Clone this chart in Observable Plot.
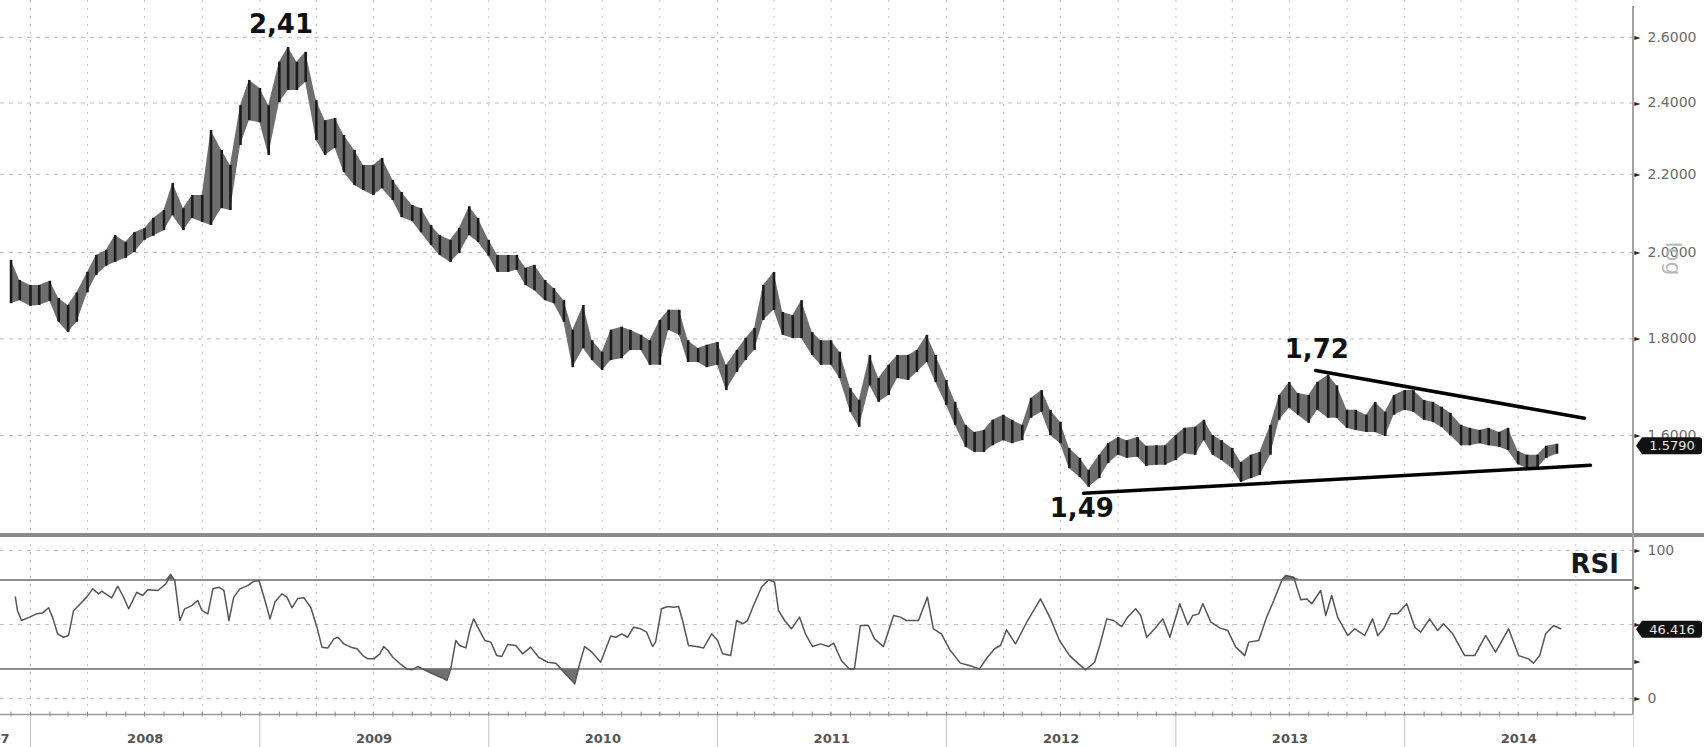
<!DOCTYPE html>
<html><head><meta charset="utf-8">
<script src="https://cdn.jsdelivr.net/npm/d3@7"></script>
<script src="https://cdn.jsdelivr.net/npm/@observablehq/plot@0.6"></script>
<style>
html,body{margin:0;padding:0;background:#fff;overflow:hidden;}
#wrap{position:relative;width:1704px;height:747px;}
#wrap svg{display:block;}
.ov{position:absolute;}
</style></head><body><div id="wrap"></div>
<script>
// ---- price bars (semi-monthly high/low) ----
const priceDates = [
"2007-12-01","2007-12-15",
"2008-01-01","2008-01-15","2008-02-01","2008-02-15","2008-03-01","2008-03-15","2008-04-01","2008-04-15","2008-05-01","2008-05-15","2008-06-01","2008-06-15","2008-07-01","2008-07-15","2008-08-01","2008-08-15","2008-09-01","2008-09-15","2008-10-01","2008-10-15","2008-11-01","2008-11-15","2008-12-01","2008-12-15",
"2009-01-01","2009-01-15","2009-02-01","2009-02-15","2009-03-01","2009-03-15","2009-04-01","2009-04-15","2009-05-01","2009-05-15","2009-06-01","2009-06-15","2009-07-01","2009-07-15","2009-08-01","2009-08-15","2009-09-01","2009-09-15","2009-10-01","2009-10-15","2009-11-01","2009-11-15","2009-12-01","2009-12-15",
"2010-01-01","2010-01-15","2010-02-01","2010-02-15","2010-03-01","2010-03-15","2010-04-01","2010-04-15","2010-05-01","2010-05-15","2010-06-01","2010-06-15","2010-07-01","2010-07-15","2010-08-01","2010-08-15","2010-09-01","2010-09-15","2010-10-01","2010-10-15","2010-11-01","2010-11-15","2010-12-01","2010-12-15",
"2011-01-01","2011-01-15","2011-02-01","2011-02-15","2011-03-01","2011-03-15","2011-04-01","2011-04-15","2011-05-01","2011-05-15","2011-06-01","2011-06-15","2011-07-01","2011-07-15","2011-08-01","2011-08-15","2011-09-01","2011-09-15","2011-10-01","2011-10-15","2011-11-01","2011-11-15","2011-12-01","2011-12-15",
"2012-01-01","2012-01-15","2012-02-01","2012-02-15","2012-03-01","2012-03-15","2012-04-01","2012-04-15","2012-05-01","2012-05-15","2012-06-01","2012-06-15","2012-07-01","2012-07-15","2012-08-01","2012-08-15","2012-09-01","2012-09-15","2012-10-01","2012-10-15","2012-11-01","2012-11-15","2012-12-01","2012-12-15",
"2013-01-01","2013-01-15","2013-02-01","2013-02-15","2013-03-01","2013-03-15","2013-04-01","2013-04-15","2013-05-01","2013-05-15","2013-06-01","2013-06-15","2013-07-01","2013-07-15","2013-08-01","2013-08-15","2013-09-01","2013-09-15","2013-10-01","2013-10-15","2013-11-01","2013-11-15","2013-12-01","2013-12-15",
"2014-01-01","2014-01-15","2014-02-01","2014-02-15","2014-03-01","2014-03-15","2014-04-01","2014-04-15","2014-05-01","2014-05-15","2014-06-01","2014-06-15","2014-07-01","2014-07-15","2014-08-01","2014-08-15","2014-09-01"
];
const priceHigh = [
1.981,1.933,1.921,1.921,1.931,1.891,1.875,1.904,1.952,1.993,
2.005,2.042,2.025,2.049,2.059,2.085,2.105,2.176,2.110,2.144,
2.144,2.321,2.265,2.224,2.392,2.467,2.443,2.392,2.522,2.568,
2.522,2.553,2.407,2.349,2.355,2.307,2.265,2.224,2.224,2.243,
2.184,2.152,2.118,2.110,2.067,2.042,2.030,2.059,2.115,2.085,
2.030,1.993,1.993,1.993,1.962,1.969,1.933,1.914,1.886,1.819,
1.875,1.796,1.771,1.819,1.826,1.819,1.808,1.796,1.841,1.864,
1.864,1.796,1.779,1.786,1.792,1.743,1.775,1.801,1.823,1.921,
1.952,1.859,1.852,1.886,1.814,1.796,1.796,1.771,1.694,1.670,
1.764,1.715,1.743,1.764,1.764,1.775,1.808,1.764,1.711,1.666,
1.620,1.606,1.610,1.630,1.640,1.630,1.620,1.674,1.690,1.650,
1.626,1.575,1.556,1.533,1.562,1.584,1.596,1.590,1.596,1.579,
1.580,1.580,1.600,1.614,1.616,1.630,1.600,1.590,1.575,1.548,
1.562,1.567,1.620,1.680,1.707,1.684,1.680,1.707,1.722,1.700,
1.650,1.650,1.640,1.666,1.646,1.680,1.690,1.690,1.670,1.666,
1.656,1.644,1.620,1.614,1.610,1.614,1.606,1.614,1.569,1.562,
1.562,1.579,1.583
];
const priceLow = [
1.879,1.886,1.873,1.875,1.884,1.837,1.814,1.837,1.904,1.945,
1.967,1.976,1.986,2.000,2.030,2.040,2.054,2.092,2.054,2.085,
2.075,2.067,2.110,2.105,2.279,2.349,2.343,2.251,2.401,2.437,
2.437,2.461,2.293,2.251,2.271,2.205,2.170,2.157,2.144,2.162,
2.131,2.087,2.077,2.049,2.017,1.993,1.976,1.998,2.042,2.025,
1.991,1.952,1.952,1.957,1.921,1.909,1.886,1.879,1.837,1.738,
1.779,1.753,1.732,1.753,1.757,1.775,1.775,1.743,1.743,1.819,
1.808,1.749,1.749,1.738,1.743,1.690,1.728,1.753,1.775,1.841,
1.864,1.808,1.801,1.801,1.764,1.743,1.743,1.715,1.646,1.616,
1.700,1.666,1.680,1.715,1.711,1.728,1.749,1.707,1.660,1.620,
1.577,1.567,1.567,1.580,1.590,1.584,1.590,1.634,1.646,1.600,
1.584,1.537,1.520,1.502,1.518,1.546,1.562,1.556,1.558,1.541,
1.543,1.543,1.552,1.565,1.562,1.590,1.562,1.552,1.537,1.511,
1.518,1.524,1.562,1.630,1.654,1.640,1.624,1.650,1.634,1.634,
1.614,1.610,1.606,1.606,1.598,1.640,1.650,1.646,1.630,1.626,
1.616,1.600,1.580,1.580,1.584,1.580,1.577,1.571,1.544,1.537,
1.537,1.556,1.564
];
const lastPrice = 1.5790;

// ---- RSI (time as decimal year, value) ----
const rsiTimes = [
2007.934,2007.943,2007.961,2007.996,2008.026,2008.052,2008.079,2008.096,2008.118,2008.144,
2008.166,2008.188,2008.210,2008.245,2008.271,2008.297,2008.310,2008.354,2008.380,2008.402,
2008.428,2008.463,2008.489,2008.511,2008.555,2008.590,2008.611,2008.629,2008.651,2008.672,
2008.703,2008.729,2008.747,2008.773,2008.795,2008.821,2008.843,2008.865,2008.886,2008.913,
2008.948,2008.974,2008.996,2009.022,2009.044,2009.066,2009.096,2009.118,2009.140,2009.166,
2009.192,2009.223,2009.249,2009.271,2009.297,2009.323,2009.341,2009.367,2009.397,2009.424,
2009.450,2009.472,2009.498,2009.524,2009.541,2009.559,2009.581,2009.616,2009.642,2009.664,
2009.690,2009.725,2009.755,2009.790,2009.817,2009.834,2009.856,2009.873,2009.900,2009.917,
2009.934,2009.956,2009.983,2010.009,2010.035,2010.057,2010.083,2010.118,2010.148,2010.183,
2010.218,2010.258,2010.293,2010.319,2010.349,2010.376,2010.397,2010.419,2010.450,2010.489,
2010.533,2010.555,2010.581,2010.607,2010.633,2010.664,2010.690,2010.716,2010.729,2010.755,
2010.782,2010.808,2010.830,2010.847,2010.873,2010.908,2010.939,2010.974,2011.000,2011.022,
2011.057,2011.083,2011.109,2011.131,2011.157,2011.192,2011.223,2011.249,2011.266,2011.293,
2011.323,2011.358,2011.384,2011.415,2011.450,2011.485,2011.507,2011.541,2011.576,2011.598,
2011.624,2011.659,2011.686,2011.725,2011.769,2011.799,2011.825,2011.878,2011.917,2011.943,
2011.978,2012.017,2012.061,2012.100,2012.144,2012.179,2012.210,2012.236,2012.262,2012.301,
2012.354,2012.410,2012.454,2012.493,2012.537,2012.576,2012.607,2012.646,2012.668,2012.699,
2012.729,2012.764,2012.790,2012.825,2012.847,2012.873,2012.908,2012.943,2012.974,2013.017,
2013.052,2013.074,2013.100,2013.118,2013.153,2013.192,2013.227,2013.262,2013.301,2013.319,
2013.362,2013.397,2013.428,2013.463,2013.480,2013.515,2013.546,2013.572,2013.594,2013.633,
2013.655,2013.681,2013.707,2013.751,2013.782,2013.825,2013.860,2013.882,2013.908,2013.939,
2013.969,2014.009,2014.044,2014.070,2014.109,2014.144,2014.170,2014.210,2014.262,2014.306,
2014.354,2014.397,2014.454,2014.498,2014.541,2014.563,2014.590,2014.616,2014.651,2014.681
];
const rsiValues = [
68.5,59.5,52.7,55,57.2,57.7,61.3,55,43.7,41.4,
42.6,59.5,62.8,68.5,74.1,70.7,72.5,68,75.9,69.6,
60.6,71.8,69.6,73.4,73,77.5,83.8,79.7,52.7,60.6,
62.8,66.2,59.5,57.2,74.1,75.2,73,52.7,68.5,74.1,
76.4,79.3,79.7,66.2,53.8,65.3,70.7,68.5,61.3,67.6,
68,61.3,48.2,34.7,34.2,40.3,41.4,36.9,34.7,33.6,
29,26.8,26.8,30.2,35.1,32.4,27.9,23,20,19.4,
21.6,18.9,16.7,14.4,12.2,20,39.2,35.8,34.2,45.9,
53.8,47.1,39.2,38.1,29,28.4,36.5,35.8,30.2,34.7,
27.9,24.5,23.9,19.4,14.4,9.9,23.4,35.1,31.5,24.5,
42.3,41.4,43.7,41.4,48.2,47.1,44.8,35.1,38.1,60.6,
62.2,61.7,62.2,52.7,35.8,35.1,34.2,43.7,39.2,30.2,
29,52.7,50.5,52.7,62.8,75.2,80.2,78.6,59.5,52.7,
47.1,55,43.7,35.1,36.9,35.1,37.4,25.7,20,20,
49.3,49.3,40.3,35.1,56.1,55,52.7,52.7,68.5,47.1,
43.7,32.4,23.9,22.3,20,27.9,33.6,35.8,46.4,36.9,
52.7,67.3,53.8,39.2,29,23.4,19.4,24.5,35.8,53.8,
52.7,48.6,55,60.6,56.1,41.4,47.1,53.8,41.4,64,
49.8,56.1,57.2,64,51.6,47.7,45.9,34.7,29,38.1,
39.2,55,66.2,79.7,83.1,82,66.7,67.3,64,73,
56.1,69.6,55,42.6,47.1,42.6,53.8,42.6,47.1,57.2,
57.2,64,48.2,44.8,53.8,45.9,50.5,43.7,29,29,
42.6,31.3,47.1,29,26.8,23.9,29,43.7,49.3,47.1
];
const lastRsi = 46.416;
const rsiBands = [20, 80];

// ---- trend lines and annotations ----
const upperTrendTimes = [2013.611, 2014.786];
const upperTrendValues = [1.732, 1.634];
const lowerTrendTimes = [2012.598, 2014.812];
const lowerTrendValues = [1.491, 1.543];
const noteTexts = ["2,41", "1,72", "1,49"];
const noteTimes = [2009.092, 2013.616, 2012.590];
const noteValues = [2.642, 1.7776, 1.464];

// ---- axes ----
const priceTicks = [2.6, 2.4, 2.2, 2.0, 1.8, 1.6];
const rsiLabelTicks = [0, 100];
const rsiMinorTicks = [25, 50, 75];
const yearLabels = ["2008","2009","2010","2011","2012","2013","2014"];

const toDate = t => { const y = Math.floor(t); const a = Date.UTC(y,0,1), b = Date.UTC(y+1,0,1); return new Date(a + (t - y) * (b - a)); };
const xDomain = [toDate(2007.869), new Date(Date.UTC(2015,0,1))];
const bars = priceDates.map((d,i) => ({date: new Date(d), high: priceHigh[i], low: priceLow[i]}));
const rsi = rsiTimes.map((t,i) => ({date: toDate(t), v: rsiValues[i]}));
const upper = upperTrendTimes.map((t,i) => ({date: toDate(t), p: upperTrendValues[i]}));
const lower = lowerTrendTimes.map((t,i) => ({date: toDate(t), p: lowerTrendValues[i]}));
const notes = noteTexts.map((s,i) => ({text: s, date: toDate(noteTimes[i]), p: noteValues[i]}));
const quarters = d3.utcMonth.every(3).range(new Date(Date.UTC(2008,0,1)), new Date(Date.UTC(2014,11,31)));
const months = d3.utcMonth.range(xDomain[0], xDomain[1]);
const yearStarts = yearLabels.map(y => new Date(Date.UTC(+y,0,1)));
const yearMids = yearLabels.map(y => new Date(Date.UTC(+y,6,2)));

const font = {fontFamily: "DejaVu Sans", background: "#fff"};
const grid = {stroke: "#c6c6c6", strokeDasharray: "2,6"};

const main = Plot.plot({
  width: 1704, height: 537, marginLeft: 0, marginRight: 71, marginTop: 0, marginBottom: 2,
  style: font,
  x: {type: "utc", domain: xDomain, axis: null},
  y: {type: "log", domain: [1.4163, 2.7196], axis: null},
  marks: [
    Plot.ruleX(quarters, {x: d => d, ...grid}),
    Plot.ruleY(priceTicks, {y: d => d, stroke: "#bdbdbd", strokeDasharray: "4,5"}),
    Plot.areaY(bars, {x: "date", y1: "low", y2: "high", fill: "#6e6e6e"}),
    Plot.ruleX(bars, {x: "date", y1: "low", y2: "high", stroke: "#1c1c1c", strokeWidth: 2.6}),
    Plot.line(upper, {x: "date", y: "p", stroke: "#000", strokeWidth: 3.5}),
    Plot.line(lower, {x: "date", y: "p", stroke: "#000", strokeWidth: 3.5}),
    Plot.text(notes, {x: "date", y: "p", text: "text", fontSize: 26, fontWeight: "bold", fill: "#111"}),
    Plot.text(priceTicks, {y: d => d, frameAnchor: "right", dx: 14, textAnchor: "start", text: d => d.toFixed(4), fill: "#6a6a6a", fontSize: 14}),
    Plot.text(priceTicks, {y: d => d, frameAnchor: "right", dx: 7, text: () => "►", fill: "#222", fontSize: 8}),
    Plot.text(["log"], {y: () => 1.945, frameAnchor: "right", dx: 40, text: d => d, rotate: 90, fontSize: 22, fill: "#b8b8b8"})
  ]
});

const rsiChart = Plot.plot({
  width: 1704, height: 210, marginLeft: 0, marginRight: 71, marginTop: 13, marginBottom: 33,
  style: font,
  x: {type: "utc", domain: xDomain, axis: null},
  y: {domain: [-10.8, 100], axis: null},
  marks: [
    Plot.ruleX(quarters, {x: d => d, y1: () => -10.8, y2: () => 107, ...grid}),
    Plot.ruleY([0, 50, 100], {y: d => d, stroke: "#c4c4c4", strokeDasharray: "4,5"}),
    Plot.ruleY(rsiBands, {y: d => d, stroke: "#8e8e8e", strokeWidth: 2}),
    Plot.areaY(rsi, {x: "date", y1: () => 20, y2: d => Math.min(d.v, 20), fill: "#707070"}),
    Plot.areaY(rsi, {x: "date", y1: () => 80, y2: d => Math.max(d.v, 80), fill: "#707070"}),
    Plot.line(rsi, {x: "date", y: "v", stroke: "#555", strokeWidth: 1.5}),
    Plot.ruleY([-10.8], {y: d => d, stroke: "#9a9a9a", strokeWidth: 1.5}),
    Plot.ruleX(months, {x: d => d, y1: () => -12.4, y2: () => -9.2, stroke: "#888"}),
    Plot.ruleX(yearStarts, {x: d => d, y1: () => -12.5, y2: () => -34, stroke: "#c2c2c2"}),
    Plot.text(yearLabels, {x: (d,i) => yearMids[i], y: () => -27.3, text: d => d, fontSize: 13, fontWeight: "bold", fill: "#555"}),
    Plot.text(["2007"], {x: () => xDomain[0], y: () => -27.3, dx: 9, textAnchor: "end", text: d => d, fontSize: 13, fontWeight: "bold", fill: "#555"}),
    Plot.text(rsiLabelTicks, {y: d => d, frameAnchor: "right", dx: 14, textAnchor: "start", text: d => String(d), fill: "#6a6a6a", fontSize: 14}),
    Plot.text([...rsiLabelTicks, ...rsiMinorTicks], {y: d => d, frameAnchor: "right", dx: 7, text: () => "►", fill: "#222", fontSize: 8}),
    Plot.text(["RSI"], {x: () => toDate(2014.83), y: () => 90.7, text: d => d, fontSize: 26, fontWeight: "bold", fill: "#151a22"})
  ]
});

const wrap = document.getElementById("wrap");
wrap.appendChild(main);
wrap.appendChild(rsiChart);

function tag(svg, yPix, label) {
  const g = d3.select(svg).append("g");
  const x0 = 1636, x1 = 1702, h = 8.5;
  g.append("path")
    .attr("d", `M${x0},${yPix} L${x0+6},${yPix-h} L${x1-3},${yPix-h} Q${x1},${yPix-h} ${x1},${yPix-h+3} L${x1},${yPix+h-3} Q${x1},${yPix+h} ${x1-3},${yPix+h} L${x0+6},${yPix+h} Z`)
    .attr("fill", "#111");
  g.append("text").attr("x", (x0 + x1) / 2 + 3).attr("y", yPix).attr("dy", "0.35em")
    .attr("text-anchor", "middle").attr("fill", "#e6e6e6")
    .attr("font-family", "DejaVu Sans").attr("font-size", 13).text(label);
}
tag(main, main.scale("y").apply(lastPrice), lastPrice.toFixed(4));
tag(rsiChart, rsiChart.scale("y").apply(lastRsi), lastRsi.toFixed(3));

function ov(css) { const d = document.createElement("div"); d.className = "ov"; Object.assign(d.style, css); wrap.appendChild(d); }
ov({left: "0px", top: "533px", width: "1704px", height: "4px", background: "#8a8a8a"});
ov({left: "1632px", top: "6px", width: "2px", height: "708px", background: "#a2a2a2"});
ov({left: "1633px", top: "714px", width: "1px", height: "33px", background: "#d8d8d8"});
</script>
</body></html>
